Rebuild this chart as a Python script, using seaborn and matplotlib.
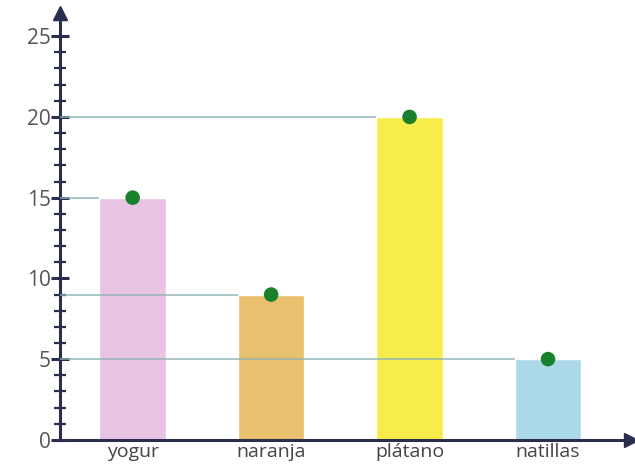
import pandas as pd
import seaborn as sns
import matplotlib.pyplot as plt
from matplotlib.ticker import MultipleLocator

# data
categories = ["yogur", "naranja", "plátano", "natillas"]
values = [15, 9, 20, 5]
bar_colors = ["#e9c3e3", "#e9c06e", "#f7ec4c", "#acd9e9"]

df = pd.DataFrame({"postre": categories, "votos": values})

sns.set_style("white")
plt.rcParams['font.family'] = ['Open Sans', 'DejaVu Sans']

fig = plt.figure(figsize=(6.35, 4.75), dpi=100)
ax = fig.add_axes([0.0945, 0.074, 0.895, 0.894])

bar_w = 0.48
sns.barplot(data=df, x="postre", y="votos", hue="postre", palette=bar_colors,
            width=bar_w, legend=False, ax=ax, saturation=1)

# guide lines from the axis to each bar (faint over other bars)
axis_left = -0.525
for i, v in enumerate(values):
    ax.hlines(v, axis_left, i - bar_w / 2, color="#8fb3b3", lw=1.3, alpha=0.8, zorder=4)

# green dots on top of the bars
sns.scatterplot(x=categories, y=values, color="#17812c", s=110, zorder=5,
                edgecolor="none", ax=ax)

ax.set_xlim(axis_left, 3.58)
ax.set_ylim(0, 26.3)

ax.yaxis.set_major_locator(MultipleLocator(5))
ax.yaxis.set_minor_locator(MultipleLocator(1))
ax.tick_params(axis="y", which="major", direction="inout", length=13, width=2.2,
               color="#2b2d4f", labelsize=15, labelcolor="#555555", pad=0, left=True)
ax.tick_params(axis="y", which="minor", direction="inout", length=9, width=1.6,
               color="#2b2d4f", left=True)
ax.tick_params(axis="x", length=0, labelsize=14, labelcolor="#444444", pad=2)

ax.set_xlabel("")
ax.set_ylabel("")

sns.despine(ax=ax)
for s in ["left", "bottom"]:
    ax.spines[s].set_color("#2b2d4f")
    ax.spines[s].set_linewidth(2.2)

# arrow heads on the axes
ax.plot(1.005, 0, ">", color="#2b2d4f", ms=10, transform=ax.transAxes, clip_on=False)
ax.plot(0, 1.005, "^", color="#2b2d4f", ms=10, transform=ax.transAxes, clip_on=False)

fig.savefig("out.png", dpi=100)
